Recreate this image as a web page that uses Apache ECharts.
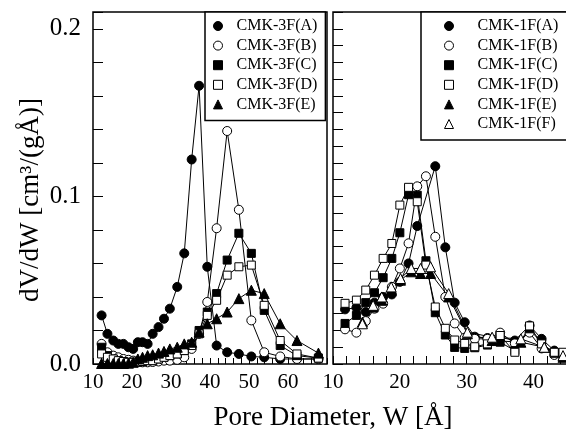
<!DOCTYPE html>
<html><head><meta charset="utf-8">
<script src="https://cdn.jsdelivr.net/npm/echarts@6/dist/echarts.min.js"></script>
<style>html,body{margin:0;padding:0;background:#fff}#c{width:566px;height:430px}</style>
</head><body><div id="c"></div><script>
// ---- data: left panel (CMK-3F) ----
const leftX = [12.2, 13.7, 15.2, 16.5, 17.8, 19.1, 20.3, 21.5, 22.7, 24.0, 25.3, 26.8, 28.2, 29.7, 31.6, 33.4, 35.3, 37.2, 39.3, 41.7, 44.4, 47.4, 50.6, 53.9, 58.0, 62.3, 67.8];
const leftA = [0.029, 0.018, 0.014, 0.012, 0.012, 0.010, 0.009, 0.013, 0.013, 0.012, 0.018, 0.022, 0.027, 0.033, 0.046, 0.066, 0.122, 0.166, 0.058, 0.011, 0.007, 0.006, 0.0045, 0.004, 0.003, 0.003, 0.003];
const leftB = [0.012, 0.007, 0.005, 0.004, 0.003, 0.0025, 0.002, 0.0015, 0.001, 0.001, 0.0012, 0.0015, 0.002, 0.002, 0.0025, 0.004, 0.009, 0.018, 0.037, 0.081, 0.139, 0.092, 0.026, 0.007, 0.0045, 0.003, 0.003];
const leftC = [0.010, 0.005, 0.003, 0.002, 0.0015, 0.001, 0.001, 0.001, 0.0015, 0.002, 0.002, 0.003, 0.004, 0.005, 0.006, 0.008, 0.012, 0.020, 0.031, 0.042, 0.062, 0.078, 0.066, 0.032, 0.011, 0.005, 0.0035];
const leftD = [0.006, 0.004, 0.003, 0.002, 0.0015, 0.001, 0.001, 0.001, 0.0015, 0.002, 0.002, 0.003, 0.004, 0.005, 0.006, 0.008, 0.011, 0.018, 0.029, 0.038, 0.053, 0.058, 0.059, 0.035, 0.014, 0.006, 0.0035];
const leftE = [0.0003, 0.0003, 0.0003, 0.0003, 0.0003, 0.0005, 0.001, 0.003, 0.004, 0.005, 0.0055, 0.0065, 0.0075, 0.009, 0.010, 0.012, 0.013, 0.019, 0.024, 0.027, 0.031, 0.039, 0.044, 0.042, 0.024, 0.014, 0.0065];
const leftNames = ['CMK-3F(A)', 'CMK-3F(B)', 'CMK-3F(C)', 'CMK-3F(D)', 'CMK-3F(E)'];

// ---- data: right panel (CMK-1F) ----
const rightX = [11.8, 13.5, 14.9, 16.2, 17.5, 18.8, 20.0, 21.3, 22.6, 23.9, 25.3, 26.8, 28.2, 29.7, 31.2, 33.1, 35.0, 37.2, 39.4, 41.2, 43.1, 44.4];
const rightA = [0.0326, 0.0336, 0.031, 0.0366, 0.040, 0.0415, 0.049, 0.060, 0.0823, null, 0.118, 0.0696, 0.0366, 0.0249, 0.0163, 0.0155, 0.016, 0.014, 0.023, 0.015, 0.008, 0.006];
const rightB = [0.0207, 0.0187, 0.0256, 0.033, 0.036, 0.046, 0.057, 0.072, 0.106, 0.112, 0.0759, 0.040, 0.0242, 0.0157, 0.015, 0.015, 0.0187, 0.0123, 0.0187, 0.0093, 0.0054, 0.005];
const rightC = [0.0242, 0.029, 0.0366, 0.0425, 0.0515, 0.063, 0.0783, 0.101, 0.1007, 0.0616, 0.0306, 0.0173, 0.0099, 0.0093, 0.0097, 0.0113, 0.013, 0.008, 0.021, 0.0123, 0.0064, 0.0044];
const rightD = [0.0362, 0.0381, 0.0441, 0.053, 0.063, 0.0719, 0.0948, 0.1054, 0.0968, 0.059, 0.034, 0.0213, 0.0143, 0.0123, 0.0103, 0.012, 0.017, 0.007, 0.0227, 0.012, 0.007, 0.007];
const rightEFX = [14.4, 16.0, 17.3, 18.7, 20.1, 21.7, 23.1, 24.6, 27.3, 30.1, 33.8, 38.1, 41.6, 44.4];
const rightE = [0.025, 0.034, 0.038, 0.044, 0.050, 0.055, 0.054, 0.054, 0.040, 0.018, 0.014, 0.013, 0.010, 0.004];
const rightF = [0.024, 0.035, 0.040, 0.046, 0.051, 0.057, 0.057, 0.058, 0.042, 0.019, 0.016, 0.015, 0.010, 0.005];
const rightNames = ['CMK-1F(A)', 'CMK-1F(B)', 'CMK-1F(C)', 'CMK-1F(D)', 'CMK-1F(E)', 'CMK-1F(F)'];

const xTitle = 'Pore Diameter, W [Å]';
const yTitle = 'dV/dW [cm³/(gÅ)]';

const FONT = "'Liberation Serif', 'Times New Roman', serif";
const styles = [
  {symbol: 'circle', size: 9, filled: true},
  {symbol: 'circle', size: 9, filled: false},
  {symbol: 'rect', size: 8, filled: true},
  {symbol: 'rect', size: 8, filled: false},
  {symbol: 'triangle', size: 10, filled: true},
  {symbol: 'triangle', size: 10, filled: false}
];
function pairs(xs, ys) {
  const out = [];
  xs.forEach((x, i) => { if (ys[i] != null) out.push([x, ys[i]]); });
  return out;
}
function mk(name, xs, ys, st, idx) {
  return {
    type: 'line', name: name, xAxisIndex: idx, yAxisIndex: idx,
    data: pairs(xs, ys), symbol: st.symbol, symbolSize: st.size,
    showAllSymbol: true, connectNulls: true, animation: false,
    lineStyle: {color: '#000', width: 1},
    itemStyle: {color: st.filled ? '#000' : '#fff', borderColor: '#000', borderWidth: 1}
  };
}
function legendItems(names) {
  return names.map((n, i) => ({
    name: n, icon: styles[i].symbol,
    itemStyle: {color: styles[i].filled ? '#000' : '#fff', borderColor: '#000', borderWidth: 1}
  }));
}
const series = [
  mk(leftNames[0], leftX, leftA, styles[0], 0),
  mk(leftNames[1], leftX, leftB, styles[1], 0),
  mk(leftNames[2], leftX, leftC, styles[2], 0),
  mk(leftNames[3], leftX, leftD, styles[3], 0),
  mk(leftNames[4], leftX, leftE, styles[4], 0),
  mk(rightNames[0], rightX, rightA, styles[0], 1),
  mk(rightNames[1], rightX, rightB, styles[1], 1),
  mk(rightNames[2], rightX, rightC, styles[2], 1),
  mk(rightNames[3], rightX, rightD, styles[3], 1),
  mk(rightNames[4], rightEFX, rightE, styles[4], 1),
  mk(rightNames[5], rightEFX, rightF, styles[5], 1)
];
function xAxis(idx, max) {
  return {
    type: 'value', gridIndex: idx, min: 10, max: max, interval: 2,
    axisLine: {show: false}, splitLine: {show: false},
    axisTick: {inside: true, length: idx === 0 ? 6 : 8, lineStyle: {color: '#000', width: 1}},
    axisLabel: {
      margin: 8, color: '#000', fontFamily: FONT, fontSize: 21,
      formatter: v => (Math.abs(v % 10) < 1e-6 && v < 70 - 1e-6 && v <= 40 + (idx === 0 ? 30 : 0)) ? String(v) : ''
    }
  };
}
function yAxis(idx) {
  return {
    type: 'value', gridIndex: idx, min: 0, max: 0.21, interval: idx === 0 ? 0.02 : 0.01,
    axisLine: {show: false}, splitLine: {show: false},
    axisTick: {inside: true, length: 10, lineStyle: {color: '#000', width: 1}},
    axisLabel: {
      show: idx === 0, margin: 12, color: '#000', fontFamily: FONT, fontSize: 25,
      formatter: v => { const t = v * 10; return (Math.abs(t - Math.round(t)) < 1e-6) ? (Math.round(t) / 10).toFixed(1) : ''; }
    }
  };
}
const legendBase = {
  orient: 'vertical', top: 12, itemWidth: 9, itemHeight: 9, itemGap: 3.6,
  borderColor: '#000', borderWidth: 1.5, backgroundColor: '#fff',
  selectedMode: false,
  textStyle: {fontFamily: FONT, fontSize: 16, color: '#000', lineHeight: 16}
};
const option = {
  animation: false,
  backgroundColor: '#fff',
  grid: [
    {left: 93, top: 12, width: 234, height: 352, show: true, borderColor: '#000', borderWidth: 1.5, backgroundColor: 'transparent', outerBoundsMode: 'none'},
    {left: 333, top: 12, width: 234, height: 352, show: true, borderColor: '#000', borderWidth: 1.5, backgroundColor: 'transparent', outerBoundsMode: 'none'}
  ],
  xAxis: [xAxis(0, 70), xAxis(1, 45)],
  yAxis: [yAxis(0), yAxis(1)],
  legend: [
    Object.assign({}, legendBase, {left: 205, padding: [6, 8, 8, 8], data: legendItems(leftNames),
      textStyle: Object.assign({}, legendBase.textStyle, {padding: [0, 0, 0, 9]})}),
    Object.assign({}, legendBase, {left: 421, padding: [6, 20, 8, 23], data: legendItems(rightNames),
      textStyle: Object.assign({}, legendBase.textStyle, {padding: [0, 0, 0, 19]})})
  ],
  graphic: [
    {type: 'text', x: 333, y: 418, style: {text: xTitle, font: "27px " + FONT, fill: '#000', textAlign: 'center', textVerticalAlign: 'middle'}},
    {type: 'text', x: 31, y: 200, rotation: Math.PI / 2, style: {text: yTitle, font: "27px " + FONT, fill: '#000', textAlign: 'center', textVerticalAlign: 'middle'}}
  ],
  series: series
};
const chart = echarts.init(document.getElementById('c'), null, {renderer: 'canvas'});
chart.setOption(option);
</script></body></html>
